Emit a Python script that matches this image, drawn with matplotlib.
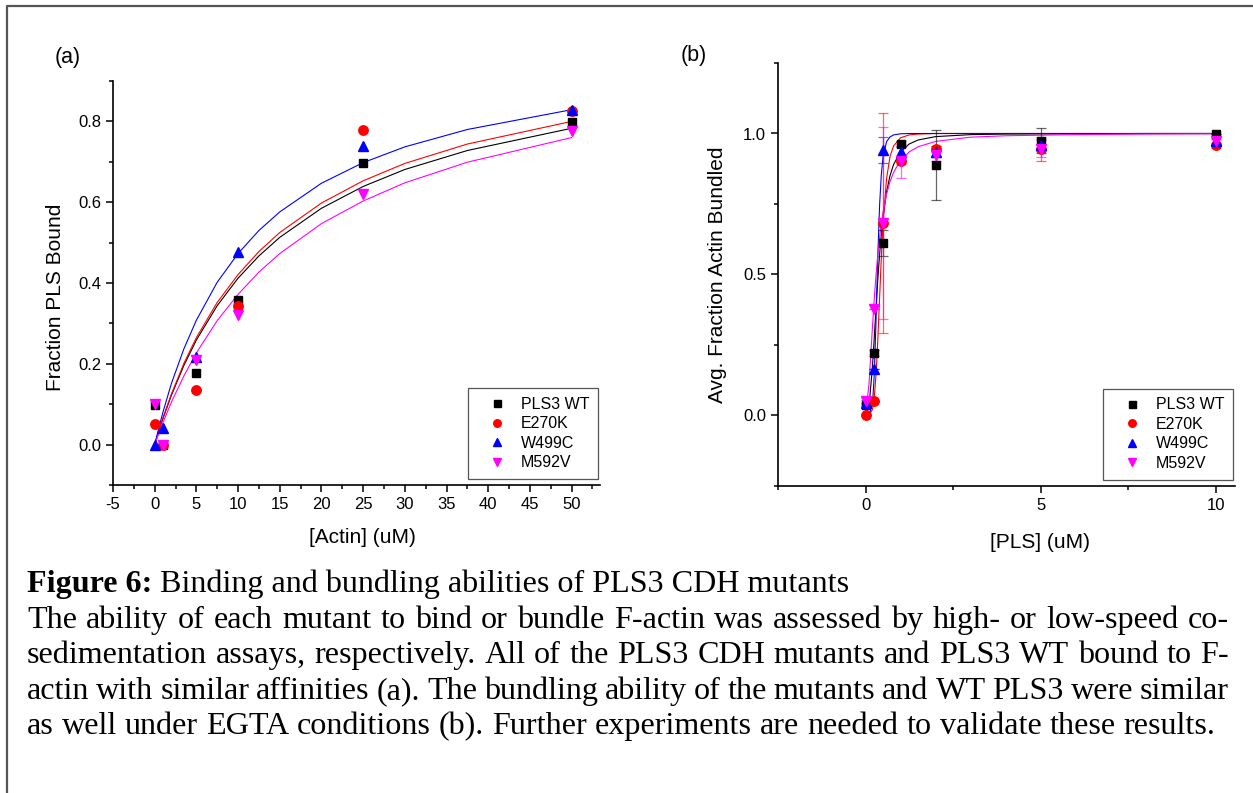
import matplotlib
matplotlib.use("Agg")
import matplotlib.pyplot as plt
from matplotlib.lines import Line2D
from matplotlib.ticker import MultipleLocator

plt.rcParams["font.family"] = ["Liberation Sans", "DejaVu Sans"]
plt.rcParams["axes.unicode_minus"] = False

# ---------------- data: (a) high-speed binding ----------------
actin_uM = [0, 1, 5, 10, 25, 50]
wt_bound = [0.098, 0.0, 0.178, 0.357, 0.698, 0.798]
e270k_bound = [0.051, 0.0, 0.134, 0.344, 0.779, 0.825]
w499c_bound = [0.0, 0.042, 0.218, 0.477, 0.739, 0.829]
m592v_bound = [0.101, -0.002, 0.210, 0.322, 0.621, 0.775]

# fitted curves
actin_fit = [0, 0.5, 1, 2, 3.5, 5, 7.5, 10, 12.5, 15, 20, 25, 30, 37.5, 50]
wt_fit_a = [0, 0.034, 0.065, 0.122, 0.196, 0.259, 0.344, 0.412, 0.467, 0.513, 0.585, 0.639, 0.681, 0.728, 0.783]
e270k_fit_a = [0, 0.034, 0.067, 0.125, 0.201, 0.265, 0.352, 0.421, 0.478, 0.525, 0.598, 0.653, 0.696, 0.744, 0.800]
w499c_fit_a = [0, 0.042, 0.081, 0.151, 0.237, 0.308, 0.402, 0.473, 0.530, 0.576, 0.647, 0.698, 0.737, 0.780, 0.829]
m592v_fit_a = [0, 0.028, 0.055, 0.105, 0.170, 0.227, 0.307, 0.372, 0.427, 0.473, 0.547, 0.603, 0.648, 0.699, 0.760]

# ---------------- data: (b) low-speed bundling ----------------
pls_uM = [0, 0.25, 0.5, 1, 2, 5, 10]
wt_bundled = [0.036, 0.221, 0.612, 0.962, 0.887, 0.975, 0.998]
wt_err = [0.01, 0.01, 0.047, 0.01, 0.124, 0.045, 0.0]
e270k_bundled = [0.0, 0.053, 0.681, 0.901, 0.945, 0.946, 0.958]
e270k_err = [0.0, 0.0, 0.39, 0.01, 0.01, 0.043, 0.01]
w499c_bundled = [0.045, 0.165, 0.942, 0.934, 0.935, 0.960, 0.972]
w499c_err = [0.01, 0.0, 0.046, 0.02, 0.02, 0.02, 0.01]
m592v_bundled = [0.052, 0.377, 0.683, 0.901, 0.923, 0.946, 0.972]
m592v_err = [0.01, 0.0, 0.34, 0.06, 0.02, 0.03, 0.01]

pls_fit = [0, 0.1, 0.2, 0.25, 0.3, 0.35, 0.4, 0.45, 0.5, 0.6, 0.7, 0.8, 1, 1.25, 1.5, 2, 3, 4, 6, 8, 10]
wt_fit_b = [0, 0.034, 0.177, 0.278, 0.384, 0.482, 0.569, 0.643, 0.703, 0.793, 0.851, 0.890, 0.936, 0.963, 0.977, 0.989, 0.996, 0.998, 0.999, 1.0, 1.0]
e270k_fit_b = [0, 0.001, 0.022, 0.065, 0.146, 0.268, 0.414, 0.559, 0.681, 0.840, 0.919, 0.956, 0.985, 0.995, 0.998, 1.0, 1.0, 1.0, 1.0, 1.0, 1.0]
w499c_fit_b = [0, 0.001, 0.043, 0.147, 0.340, 0.565, 0.743, 0.854, 0.917, 0.971, 0.988, 0.995, 0.999, 1.0, 1.0, 1.0, 1.0, 1.0, 1.0, 1.0, 1.0]
m592v_fit_b = [0, 0.114, 0.319, 0.416, 0.5, 0.572, 0.631, 0.681, 0.722, 0.785, 0.830, 0.862, 0.905, 0.935, 0.953, 0.972, 0.987, 0.992, 0.996, 0.998, 0.999]

labels = ["PLS3 WT", "E270K", "W499C", "M592V"]
colors = ["#000000", "#FF0000", "#0000FF", "#FF00FF"]
markers = ["s", "o", "^", "v"]
msizes = [6.3, 6.8, 7.3, 7.3]

caption_head = "Figure 6:"
caption_title = " Binding and bundling abilities of PLS3 CDH mutants"
caption_lines = [
    "The ability of each mutant to bind or bundle F-actin was assessed by high- or low-speed co-",
    "sedimentation assays, respectively. All of the PLS3 CDH mutants and PLS3 WT bound to F-",
    "actin with similar affinities (a). The bundling ability of the mutants and WT PLS3 were similar",
    "as well under EGTA conditions (b). Further experiments are needed to validate these results.",
]

W, H = 1253, 793
fig = plt.figure(figsize=(W / 100, H / 100), dpi=100)


def style_axes(ax):
    for s in ["top", "right"]:
        ax.spines[s].set_visible(False)
    for s in ["left", "bottom"]:
        ax.spines[s].set_linewidth(1.2)
    ax.tick_params(which="both", direction="out", width=1.1, labelsize=12)
    ax.tick_params(which="major", length=5)
    ax.tick_params(which="minor", length=3)


def add_legend(ax, handles):
    leg = ax.legend(handles=handles, loc="lower right", bbox_to_anchor=(0.996, 0.015),
                    borderaxespad=0, fontsize=11.5, frameon=True, fancybox=False,
                    edgecolor="#555555", framealpha=1, borderpad=0.55,
                    handlelength=2.5, handletextpad=0.25, labelspacing=0.28,
                    markerscale=0.8)
    leg.get_frame().set_linewidth(0.9)


# ===================== panel (a) =====================
ax1 = fig.add_axes([113 / W, 1 - 485 / H, 487 / W, 404 / H])
series_a = [wt_bound, e270k_bound, w499c_bound, m592v_bound]
fits_a = [wt_fit_a, e270k_fit_a, w499c_fit_a, m592v_fit_a]
handles = []
for i in range(4):
    ax1.plot(actin_fit, fits_a[i], color=colors[i], lw=0.8, zorder=2)
for i in range(4):
    h, = ax1.plot(actin_uM, series_a[i], linestyle="none", marker=markers[i],
                  color=colors[i], markersize=msizes[i], zorder=3, label=labels[i])
    handles.append(h)
ax1.set_xlim(-5, 53.4)
ax1.set_ylim(-0.1, 0.9)
ax1.xaxis.set_major_locator(MultipleLocator(5))
ax1.xaxis.set_minor_locator(MultipleLocator(2.5))
ax1.yaxis.set_major_locator(MultipleLocator(0.2))
ax1.yaxis.set_minor_locator(MultipleLocator(0.1))
style_axes(ax1)
ax1.set_xlabel("[Actin] (uM)", fontsize=15)
ax1.set_ylabel("Fraction PLS Bound", fontsize=15)
ax1.xaxis.set_label_coords(0.513, -0.106)
ax1.yaxis.set_label_coords(-0.099, 0.465)
add_legend(ax1, handles)

# ===================== panel (b) =====================
ax2 = fig.add_axes([778 / W, 1 - 486 / H, 457 / W, 423 / H])
series_b = [wt_bundled, e270k_bundled, w499c_bundled, m592v_bundled]
errs_b = [wt_err, e270k_err, w499c_err, m592v_err]
fits_b = [wt_fit_b, e270k_fit_b, w499c_fit_b, m592v_fit_b]
handles = []
for i in range(4):
    ax2.plot(pls_fit, fits_b[i], color=colors[i], lw=0.8, zorder=2)
for i in range(4):
    ax2.errorbar(pls_uM, series_b[i], yerr=errs_b[i], fmt="none", ecolor=colors[i],
                 elinewidth=0.9, capsize=3.5, capthick=0.9, alpha=0.6, zorder=3)
for i in range(4):
    h, = ax2.plot(pls_uM, series_b[i], linestyle="none", marker=markers[i],
                  color=colors[i], markersize=msizes[i], zorder=4, label=labels[i])
    handles.append(h)
ax2.set_xlim(-2.5, 10.55)
ax2.set_ylim(-0.25, 1.25)
ax2.xaxis.set_major_locator(MultipleLocator(5))
ax2.xaxis.set_minor_locator(MultipleLocator(2.5))
ax2.yaxis.set_major_locator(MultipleLocator(0.5))
ax2.yaxis.set_minor_locator(MultipleLocator(0.25))
style_axes(ax2)
ax2.set_xlabel("[PLS] (uM)", fontsize=15)
ax2.set_ylabel("Avg. Fraction Actin Bundled", fontsize=15)
ax2.xaxis.set_label_coords(0.573, -0.111)
ax2.yaxis.set_label_coords(-0.112, 0.5)
add_legend(ax2, handles)

# panel letters
fig.text(55 / W, 1 - 57 / H, "(a)", fontsize=15.5, va="center", ha="left")
fig.text(681 / W, 1 - 55 / H, "(b)", fontsize=15.5, va="center", ha="left")

# ===================== caption (justified like the source document) =====================
serif = ["Liberation Serif", "DejaVu Serif"]
renderer = fig.canvas.get_renderer()


def text_width(s, size, **kw):
    t = fig.text(0, 0, s, fontsize=size, family=serif, **kw)
    w = t.get_window_extent(renderer).width
    t.remove()
    return w


# font size so the last (unjustified) line ends where it does in the source
cap_size = 22 * (1210 - 27) / text_width(caption_lines[-1], 22)
space_w = text_width("x x", cap_size) - text_width("xx", cap_size)

x_left, x_right = 27, 1229
base0 = 592
step = 35.6

head = fig.text(x_left / W, 1 - base0 / H, caption_head, fontsize=cap_size, family=serif,
                weight="bold", va="baseline", ha="left")
hw = head.get_window_extent(renderer).width
fig.text((x_left + hw) / W, 1 - base0 / H, caption_title, fontsize=cap_size, family=serif,
         va="baseline", ha="left")

for k, line in enumerate(caption_lines):
    y = 1 - (base0 + step * (k + 1)) / H
    words = line.split(" ")
    widths = [text_width(wd, cap_size) for wd in words]
    if k < len(caption_lines) - 1:
        gap = (x_right - x_left - sum(widths)) / (len(words) - 1)
    else:
        gap = space_w
    x = x_left
    for wd, ww in zip(words, widths):
        fig.text(x / W, y, wd, fontsize=cap_size, family=serif, va="baseline", ha="left")
        x += ww + gap

# outer frame (left and top edges)
fig.add_artist(Line2D([7 / W, 7 / W, 1.0], [0.0, 1 - 6 / H, 1 - 6 / H],
                      transform=fig.transFigure, color="#555555", lw=1.6))

fig.savefig("out.png", dpi=100)
